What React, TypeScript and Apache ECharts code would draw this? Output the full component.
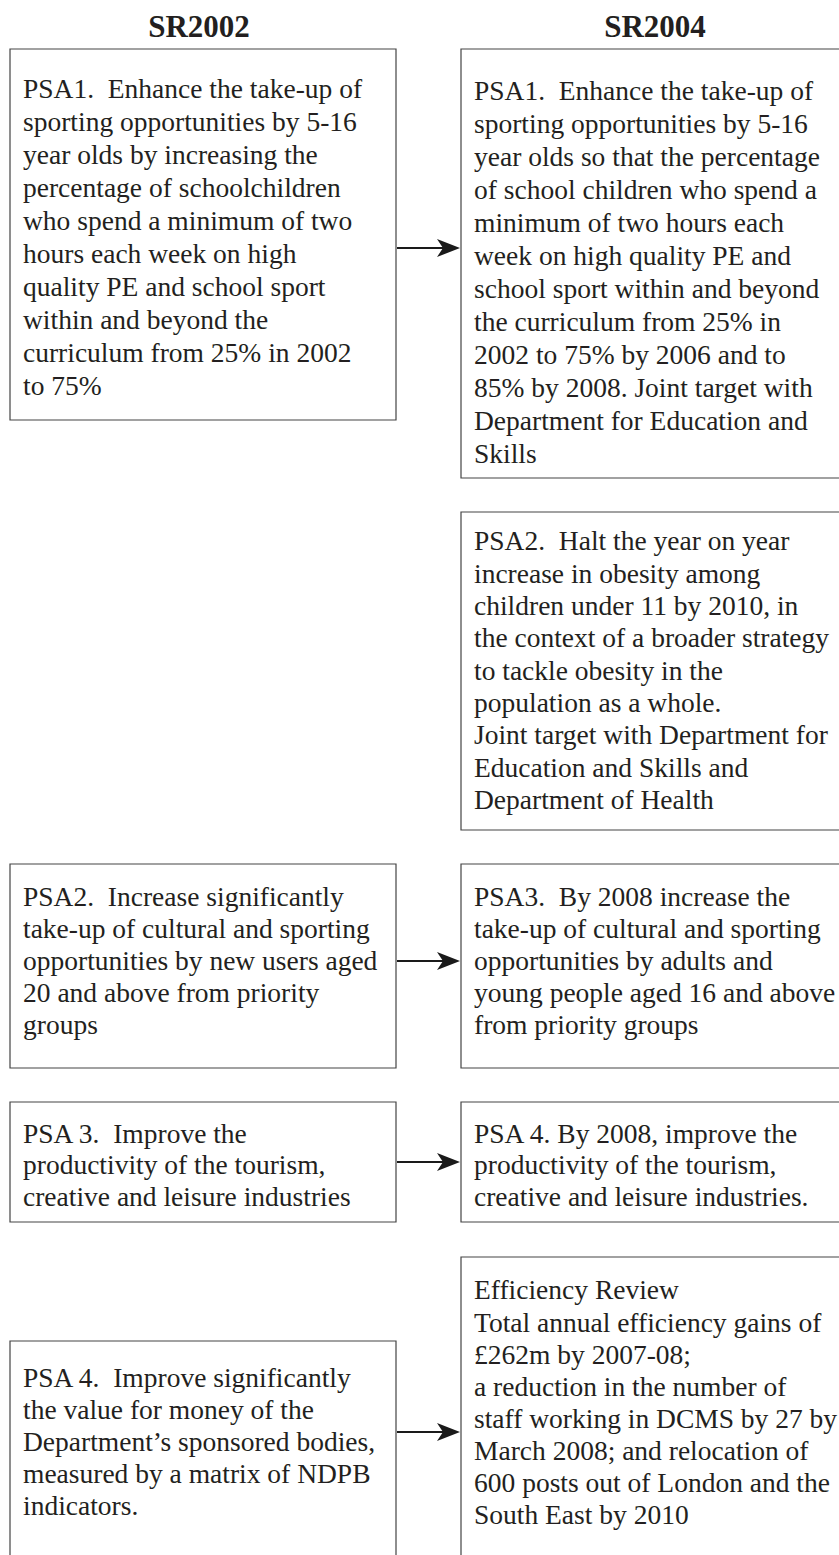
import React, { useEffect, useRef } from "react";
import * as echarts from "echarts";

// ---- data ----
const columnTitles = ["SR2002", "SR2004"];

const sr2002Targets = [
  "PSA1.  Enhance the take-up of\nsporting opportunities by 5-16\nyear olds by increasing the\npercentage of schoolchildren\nwho spend a minimum of two\nhours each week on high\nquality PE and school sport\nwithin and beyond the\ncurriculum from 25% in 2002\nto 75%",
  "PSA2.  Increase significantly\ntake-up of cultural and sporting\nopportunities by new users aged\n20 and above from priority\ngroups",
  "PSA 3.  Improve the\nproductivity of the tourism,\ncreative and leisure industries",
  "PSA 4.  Improve significantly\nthe value for money of the\nDepartment\u2019s sponsored bodies,\nmeasured by a matrix of NDPB\nindicators.",
];

const sr2004Targets = [
  "PSA1.  Enhance the take-up of\nsporting opportunities by 5-16\nyear olds so that the percentage\nof school children who spend a\nminimum of two hours each\nweek on high quality PE and\nschool sport within and beyond\nthe curriculum from 25% in\n2002 to 75% by 2006 and to\n85% by 2008. Joint target with\nDepartment for Education and\nSkills",
  "PSA2.  Halt the year on year\nincrease in obesity among\nchildren under 11 by 2010, in\nthe context of a broader strategy\nto tackle obesity in the\npopulation as a whole.\nJoint target with Department for\nEducation and Skills and\nDepartment of Health",
  "PSA3.  By 2008 increase the\ntake-up of cultural and sporting\nopportunities by adults and\nyoung people aged 16 and above\nfrom priority groups",
  "PSA 4. By 2008, improve the\nproductivity of the tourism,\ncreative and leisure industries.",
  "Efficiency Review\nTotal annual efficiency gains of\n\u00a3262m by 2007-08;\na reduction in the number of\nstaff working in DCMS by 27 by\nMarch 2008; and relocation of\n600 posts out of London and the\nSouth East by 2010",
];

// links: [index in SR2002, index in SR2004]
const links = [
  [0, 0],
  [1, 2],
  [2, 3],
  [3, 4],
];

// ---- layout (positions & styles) ----
const W = 839;
const H = 1555;
const leftBox = { x: 10, w: 386 };
const rightBox = { x: 461, w: 420 };
const textPadX = 13;
const leftLayout = [
  { top: 49, bottom: 420, first: 88, lh: 33 },
  { top: 864, bottom: 1068, first: 896, lh: 32 },
  { top: 1102, bottom: 1222, first: 1133, lh: 31.5 },
  { top: 1341, bottom: 1600, first: 1377, lh: 32 },
];
const rightLayout = [
  { top: 49, bottom: 478, first: 90, lh: 33 },
  { top: 512, bottom: 830, first: 541, lh: 32.3 },
  { top: 864, bottom: 1068, first: 896, lh: 32 },
  { top: 1102, bottom: 1222, first: 1133, lh: 31.5 },
  { top: 1257, bottom: 1600, first: 1290, lh: 32.1 },
];
const arrowY = [248, 961, 1162, 1432];
const titleX = [199, 655];
const titleY = 26;

const FONT_FAMILY = '"Liberation Serif", "Times New Roman", serif';
const TEXT_COLOR = "#231f20";
const BOX_COLOR = "#444444";

function boxElements(texts: string[], layout: any[], box: any) {
  const els: any[] = [];
  texts.forEach((t, i) => {
    const l = layout[i];
    els.push({
      type: "rect",
      shape: { x: box.x, y: l.top, width: box.w, height: l.bottom - l.top },
      style: { fill: "#ffffff", stroke: BOX_COLOR, lineWidth: 1.2 },
      z: 1,
    });
    els.push({
      type: "text",
      x: box.x + textPadX,
      y: l.first - l.lh / 2,
      style: {
        text: t,
        fontFamily: FONT_FAMILY,
        fontSize: 27.5,
        lineHeight: l.lh,
        fill: TEXT_COLOR,
        align: "left",
        verticalAlign: "top",
      },
      z: 2,
    });
  });
  return els;
}

function arrowElements() {
  const els: any[] = [];
  links.forEach((_, i) => {
    const y = arrowY[i];
    const x0 = leftBox.x + leftBox.w + 1;
    const tip = rightBox.x - 1;
    els.push({
      type: "line",
      shape: { x1: x0, y1: y, x2: tip - 14, y2: y },
      style: { stroke: "#1a1a1a", lineWidth: 2.2 },
      z: 3,
    });
    els.push({
      type: "polygon",
      shape: {
        points: [
          [tip, y],
          [tip - 23, y - 9],
          [tip - 17, y],
          [tip - 23, y + 9],
        ],
      },
      style: { fill: "#1a1a1a" },
      z: 3,
    });
  });
  return els;
}

export default function App() {
  const ref = useRef<HTMLDivElement>(null);
  useEffect(() => {
    if (!ref.current) return;
    const chart = echarts.init(ref.current, null, { renderer: "svg", width: W, height: H });
    const titles = columnTitles.map((t, i) => ({
      type: "text",
      x: titleX[i],
      y: titleY,
      style: {
        text: t,
        fontFamily: FONT_FAMILY,
        fontWeight: "bold",
        fontSize: 31,
        fill: TEXT_COLOR,
        align: "center",
        verticalAlign: "middle",
      },
    }));
    chart.setOption({
      animation: false,
      backgroundColor: "#ffffff",
      graphic: {
        elements: [
          ...titles,
          ...boxElements(sr2002Targets, leftLayout, leftBox),
          ...boxElements(sr2004Targets, rightLayout, rightBox),
          ...arrowElements(),
        ],
      },
    });
    return () => chart.dispose();
  }, []);
  return (
    <div
      ref={ref}
      style={{ position: "absolute", left: 0, top: 0, width: W, height: H, overflow: "hidden" }}
    />
  );
}
